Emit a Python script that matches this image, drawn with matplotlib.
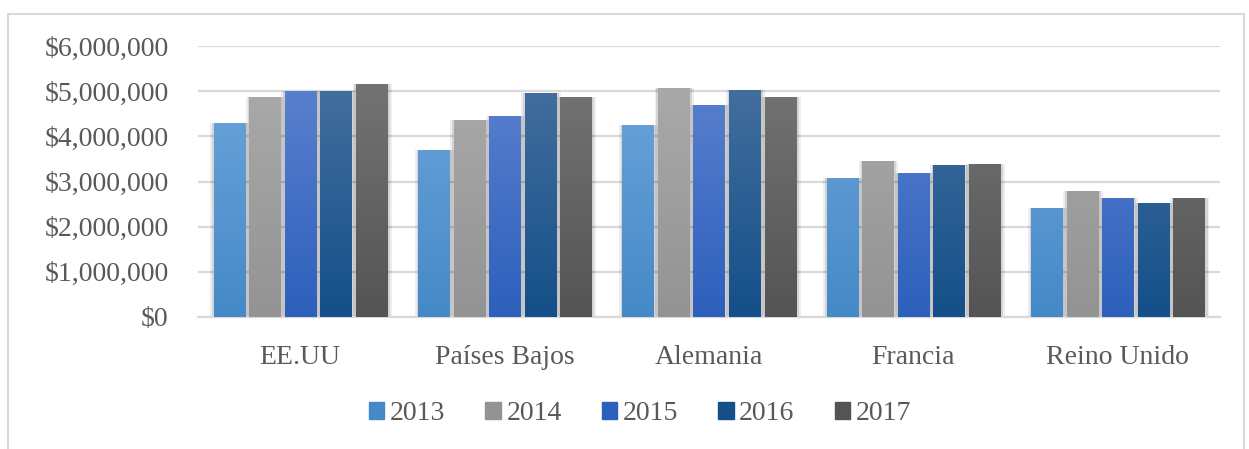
import numpy as np
import matplotlib.pyplot as plt
from matplotlib.patches import Rectangle
from matplotlib.ticker import FuncFormatter

plt.rcParams['font.family'] = ['Liberation Serif', 'DejaVu Serif']

paises = ['EE.UU', 'Países Bajos', 'Alemania', 'Francia', 'Reino Unido']
anios = ['2013', '2014', '2015', '2016', '2017']
v2013 = [4300000, 3690000, 4250000, 3080000, 2410000]
v2014 = [4870000, 4360000, 5070000, 3450000, 2790000]
v2015 = [5000000, 4450000, 4690000, 3190000, 2630000]
v2016 = [5000000, 4960000, 5020000, 3360000, 2520000]
v2017 = [5150000, 4870000, 4870000, 3380000, 2630000]
series = [v2013, v2014, v2015, v2016, v2017]

# gradient (top, bottom) per year, like the Excel fill
grad = [('#72a8dd', '#4589c8'),
        ('#adadad', '#939393'),
        ('#6186d1', '#2d5fbc'),
        ('#4b74a2', '#144f89'),
        ('#787878', '#545454')]

fig = plt.figure(figsize=(12.49, 4.49), dpi=100)
ax = fig.add_axes([198 / 1249, 1 - 317 / 449, 1022 / 1249, 271 / 449])

x = np.arange(len(paises))
slot = 0.174
width = 0.152

for i, vals in enumerate(series):
    pos = x + (i - 2) * slot
    # soft shadow
    for k, a in [(0.02, 0.07), (0.011, 0.10)]:
        ax.bar(pos + 0.004, np.array(vals) + 40000, width + 2 * k, bottom=-40000,
               color='black', alpha=a, lw=0, zorder=2)
    bars = ax.bar(pos, vals, width, color=grad[i][1], lw=0, zorder=3, label=anios[i])
    top, bot = grad[i]
    cmap = plt.matplotlib.colors.LinearSegmentedColormap.from_list('g%d' % i, [bot, top])
    img = np.linspace(0, 1, 256).reshape(-1, 1)
    for b in bars:
        bx = b.get_x()
        im = ax.imshow(img, cmap=cmap, origin='lower', aspect='auto',
                       extent=[bx, bx + b.get_width(), 0, 6000000], zorder=3.5)
        im.set_clip_path(b)

ax.set_xlim(-0.5, len(paises) - 0.5)
ax.set_ylim(0, 6000000)
ax.set_yticks(np.arange(0, 6000001, 1000000))
ax.yaxis.set_major_formatter(FuncFormatter(lambda v, p: '${:,.0f}'.format(v)))
ax.set_xticks(x)
ax.set_xticklabels(paises)
ax.grid(axis='y', color='#d9d9d9', lw=1.6, zorder=1)
ax.set_axisbelow(True)
for s in ['top', 'right', 'left']:
    ax.spines[s].set_visible(False)
ax.spines['bottom'].set_color('#d9d9d9')
ax.spines['bottom'].set_linewidth(1.6)
ax.tick_params(axis='both', length=0, labelsize=20, colors='#595959')
ax.tick_params(axis='y', pad=21)
ax.tick_params(axis='x', pad=20)

leg_handles = [Rectangle((0, 0), 1, 1, color=grad[i][1]) for i in range(5)]
fig.legend(leg_handles, anios, loc='center', bbox_to_anchor=(640 / 1249, 1 - 414 / 449),
           ncol=5, frameon=False, fontsize=20, labelcolor='#595959',
           handlelength=0.55, handleheight=0.55, handletextpad=0.2, columnspacing=1.45)

fig.patches.append(Rectangle((8 / 1249, -0.01), 1236 / 1249, 1 - 14 / 449 + 0.01,
                             transform=fig.transFigure, fill=False,
                             edgecolor='#d9d9d9', lw=1.5))

fig.savefig('out.png', dpi=100)
